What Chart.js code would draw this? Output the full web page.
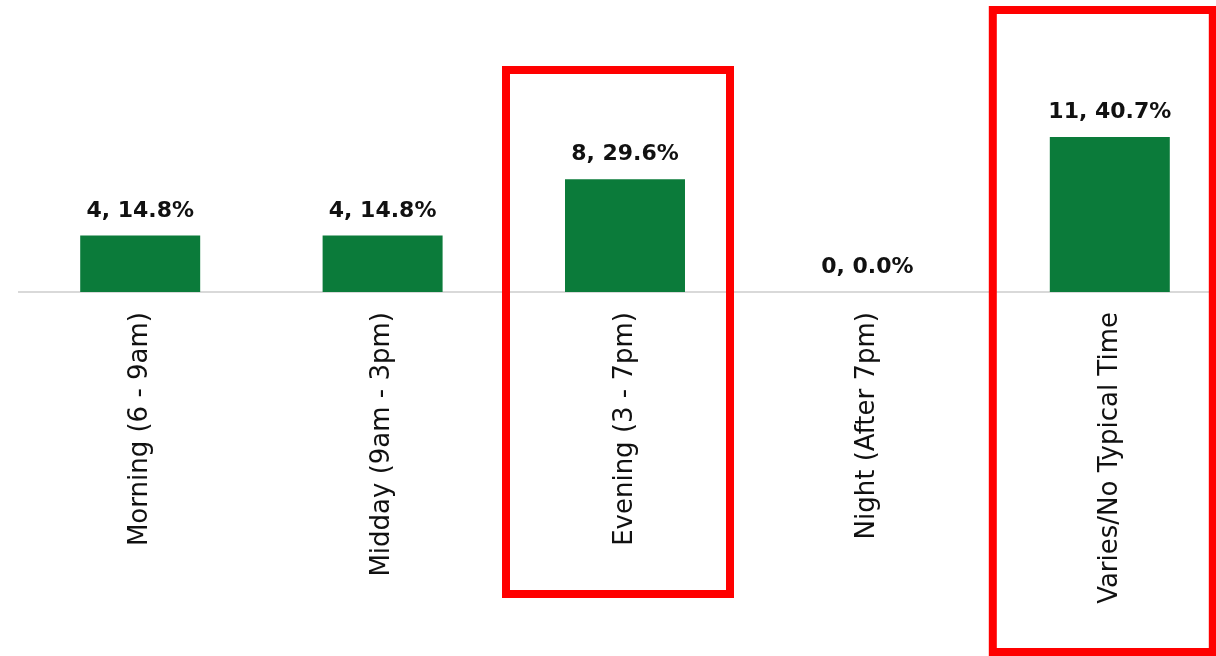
<!DOCTYPE html>
<html>
<head>
<meta charset="utf-8">
<script src="https://cdn.jsdelivr.net/npm/chart.js@4"></script>
<style>
  html, body { margin: 0; padding: 0; background: #fff; overflow: hidden; }
  #wrap { width: 1216px; height: 656px; overflow: hidden; }
</style>
</head>
<body>
<div id="wrap"><canvas id="timeChart" width="1231" height="656"></canvas></div>
<script>
const categories = ['Morning (6 - 9am)', 'Midday (9am - 3pm)', 'Evening (3 - 7pm)', 'Night (After 7pm)', 'Varies/No Typical Time'];
const counts = [4, 4, 8, 0, 11];
const highlighted = ['Evening (3 - 7pm)', 'Varies/No Typical Time'];

const total = counts.reduce((a, b) => a + b, 0);
const FONT = '"DejaVu Sans", sans-serif';

// red boxes around the highlighted categories
const boxPlugin = {
  id: 'boxes',
  afterDraw(chart) {
    const ctx = chart.ctx;
    const x = chart.scales.x;
    const boxes = {
      'Evening (3 - 7pm)': { l: 119, r: 105, t: 70, b: 594 },
      'Varies/No Typical Time': { l: 117, r: 103, t: 10, b: 652 }
    };
    ctx.save();
    ctx.strokeStyle = '#ff0000';
    ctx.lineWidth = 8;
    highlighted.forEach(name => {
      const cx = x.getPixelForValue(categories.indexOf(name));
      const b = boxes[name];
      ctx.strokeRect(cx - b.l, b.t, b.l + b.r, b.b - b.t);
    });
    ctx.restore();
  }
};

// "n, p%" labels above each bar
const labelPlugin = {
  id: 'barLabels',
  afterDatasetsDraw(chart) {
    const ctx = chart.ctx;
    const meta = chart.getDatasetMeta(0);
    ctx.save();
    ctx.font = 'bold 22px ' + FONT;
    ctx.fillStyle = '#111';
    ctx.textAlign = 'center';
    ctx.textBaseline = 'alphabetic';
    meta.data.forEach((bar, i) => {
      const pct = (counts[i] / total * 100).toFixed(1);
      ctx.fillText(counts[i] + ', ' + pct + '%', bar.x, bar.y - 19);
    });
    ctx.restore();
  }
};

new Chart(document.getElementById('timeChart'), {
  type: 'bar',
  data: {
    labels: categories,
    datasets: [{
      data: counts,
      backgroundColor: '#0b7b3a',
      categoryPercentage: 1,
      barPercentage: 0.495
    }]
  },
  options: {
    responsive: false,
    animation: false,
    layout: { padding: { left: 19, right: 0, top: 10, bottom: 0 } },
    plugins: { legend: { display: false }, tooltip: { enabled: false } },
    scales: {
      x: {
        grid: { display: false, drawTicks: false },
        border: { color: '#d9d9d9', width: 2 },
        ticks: {
          minRotation: 90, maxRotation: 90, autoSkip: false,
          padding: 20, color: '#111',
          font: { family: FONT, size: 26 }
        },
        afterFit(s) { s.height = 364; }
      },
      y: {
        display: false,
        min: 0, max: 20
      }
    }
  },
  plugins: [labelPlugin, boxPlugin]
});
</script>
</body>
</html>
